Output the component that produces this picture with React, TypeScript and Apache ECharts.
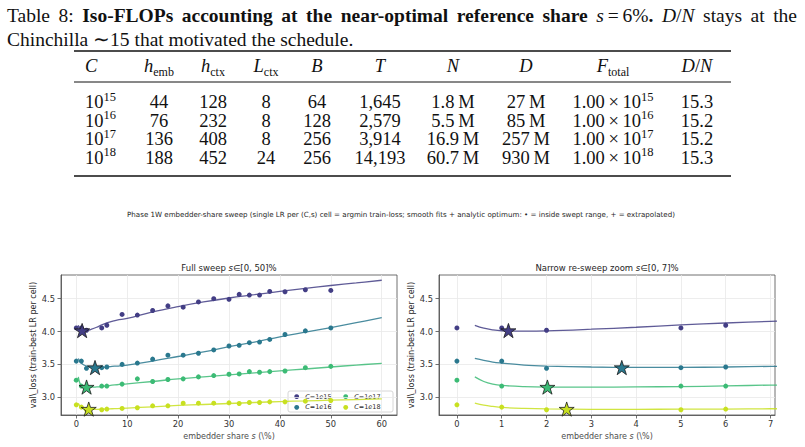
import React, { useEffect, useRef } from "react";
import * as echarts from "echarts";

// ---- Table 8 contents -------------------------------------------------------
const TABLE_C_EXP = ["15", "16", "17", "18"];
const TABLE_H_EMB = ["44", "76", "136", "188"];
const TABLE_H_CTX = ["128", "232", "408", "452"];
const TABLE_L_CTX = ["8", "8", "8", "24"];
const TABLE_B = ["64", "128", "256", "256"];
const TABLE_T = ["1,645", "2,579", "3,914", "14,193"];
const TABLE_N = ["1.8\u2009M", "5.5\u2009M", "16.9\u2009M", "60.7\u2009M"];
const TABLE_D = ["27\u2009M", "85\u2009M", "257\u2009M", "930\u2009M"];
const TABLE_F_EXP = ["15", "16", "17", "18"];
const TABLE_DN = ["15.3", "15.2", "15.2", "15.3"];

// ---- Sweep results ----------------------------------------------------------
const BUDGETS = ["1e15", "1e16", "1e17", "1e18"];
const SHARE_SWEPT = [0, 1, 2, 5, 6, 9, 12, 15, 18, 21, 24, 27, 30, 32, 34, 36, 38, 41, 45, 50];
const LOSS_1E15 = [4.055, 4.055, 4.02, 4.055, 4.095, 4.26, 4.25, 4.32, 4.39, 4.37, 4.45, 4.5, 4.49, 4.565, 4.555, 4.555, 4.61, 4.605, 4.635, 4.625];
const LOSS_1E16 = [3.55, 3.55, 3.44, 3.45, 3.46, 3.5, 3.52, 3.58, 3.64, 3.64, 3.67, 3.72, 3.78, 3.79, 3.83, 3.84, 3.88, 3.955, 4.01, 4.055];
const LOSS_1E17 = [3.26, 3.17, 3.16, 3.17, 3.17, 3.2, 3.28, 3.24, 3.27, 3.28, 3.31, 3.33, 3.35, 3.355, 3.39, 3.38, 3.39, 3.4, 3.45, 3.47];
const LOSS_1E18 = [2.885, 2.85, 2.81, 2.81, 2.82, 2.83, 2.84, 2.87, 2.87, 2.91, 2.91, 2.91, 2.915, 2.905, 2.92, 2.92, 2.93, 2.93, 2.94, 2.95];

// smooth fits, sampled along the share axis
const SHARE_FIT = [0.4, 0.6, 0.8, 1, 1.5, 2, 3, 4, 5, 6, 7, 8, 10, 15, 20, 25, 30, 35, 40, 45, 50, 55, 60];
const FIT_1E15 = [4.095, 4.05, 4.025, 4.012, 4.006, 4.01, 4.035, 4.065, 4.1, 4.13, 4.155, 4.175, 4.2, 4.3, 4.38, 4.45, 4.51, 4.56, 4.61, 4.655, 4.7, 4.74, 4.78];
const FIT_1E16 = [3.59, 3.56, 3.535, 3.52, 3.49, 3.475, 3.46, 3.455, 3.455, 3.46, 3.47, 3.475, 3.49, 3.55, 3.62, 3.69, 3.77, 3.84, 3.92, 3.99, 4.06, 4.135, 4.21];
const FIT_1E17 = [3.31, 3.24, 3.2, 3.18, 3.162, 3.155, 3.153, 3.157, 3.163, 3.172, 3.185, 3.19, 3.205, 3.24, 3.28, 3.31, 3.34, 3.37, 3.4, 3.43, 3.46, 3.49, 3.515];
const FIT_1E18 = [2.91, 2.88, 2.86, 2.845, 2.83, 2.822, 2.817, 2.817, 2.818, 2.82, 2.825, 2.828, 2.835, 2.855, 2.875, 2.89, 2.905, 2.92, 2.935, 2.945, 2.955, 2.965, 2.975];

// analytic optimum per budget
const OPT_SHARE = [1.15, 3.68, 2.02, 2.45];
const OPT_LOSS = [4.015, 3.452, 3.155, 2.82];

const Y_TICKS = [3.0, 3.5, 4.0, 4.5];
const X_TICKS_FULL = [0, 10, 20, 30, 40, 50, 60];
const X_TICKS_ZOOM = [0, 1, 2, 3, 4, 5, 6, 7];

const LOSSES = [LOSS_1E15, LOSS_1E16, LOSS_1E17, LOSS_1E18];
const FITS = [FIT_1E15, FIT_1E16, FIT_1E17, FIT_1E18];
const COLORS = ["#433e85", "#2a788e", "#3cbb75", "#c8e020"];

const SERIF = "'Liberation Serif', 'Times New Roman', serif";
const SANS = "'DejaVu Sans', sans-serif";
const CAP_SIZE = 19.5;
const TAB_SIZE = 18.5;

// matplotlib-style 5-point star marker
const STAR = (() => {
  const pts: string[] = [];
  for (let i = 0; i < 10; i++) {
    const r = i % 2 === 0 ? 50 : 50 * 0.381966;
    const a = -Math.PI / 2 + (i * Math.PI) / 5;
    pts.push(`${(50 + r * Math.cos(a)).toFixed(2)},${(50 + r * Math.sin(a)).toFixed(2)}`);
  }
  return "path://M" + pts.join(" L") + " Z";
})();

const zip = (xs: number[], ys: number[]) => xs.map((x, i) => [x, ys[i]]);

// superscripts sit at the top of a tall line box, subscripts at its bottom
const tableRich = {
  n: { fontFamily: SERIF, fontSize: TAB_SIZE, lineHeight: 24, fill: "#111" },
  i: { fontFamily: SERIF, fontSize: TAB_SIZE, lineHeight: 24, fontStyle: "italic", fill: "#111" },
  sup: { fontFamily: SERIF, fontSize: 12.5, lineHeight: 12, verticalAlign: "top", fill: "#111" },
  sub: { fontFamily: SERIF, fontSize: 12, lineHeight: 11, verticalAlign: "bottom", fill: "#111" },
};

function buildTable(): any[] {
  const cols = [
    { x: 85, align: "left", head: "{i|C}", cells: TABLE_C_EXP.map((e) => `{n|10}{sup|${e}}`) },
    { x: 159, head: "{i|h}{sub|emb}", cells: TABLE_H_EMB.map((v) => `{n|${v}}`) },
    { x: 213, head: "{i|h}{sub|ctx}", cells: TABLE_H_CTX.map((v) => `{n|${v}}`) },
    { x: 266, head: "{i|L}{sub|ctx}", cells: TABLE_L_CTX.map((v) => `{n|${v}}`) },
    { x: 317, head: "{i|B}", cells: TABLE_B.map((v) => `{n|${v}}`) },
    { x: 380, head: "{i|T}", cells: TABLE_T.map((v) => `{n|${v}}`) },
    { x: 453, head: "{i|N}", cells: TABLE_N.map((v) => `{n|${v}}`) },
    { x: 526, head: "{i|D}", cells: TABLE_D.map((v) => `{n|${v}}`) },
    { x: 613, head: "{i|F}{sub|total}", cells: TABLE_F_EXP.map((e) => `{n|1.00\u2009×\u200910}{sup|${e}}`) },
    { x: 697, head: "{i|D}{n|/}{i|N}", cells: TABLE_DN.map((v) => `{n|${v}}`) },
  ];
  const headY = 66;
  const rowY = [102, 120.5, 139, 157.5];
  const els: any[] = [];
  cols.forEach((c) => {
    const align = c.align || "center";
    els.push({
      type: "text",
      x: c.x,
      y: headY,
      style: { text: c.head, rich: tableRich, align, verticalAlign: "middle" },
    });
    c.cells.forEach((t, r) => {
      els.push({
        type: "text",
        x: c.x,
        y: rowY[r],
        style: { text: t, rich: tableRich, align, verticalAlign: "middle" },
      });
    });
  });
  const rule = (y: number, w: number) => ({
    type: "line",
    shape: { x1: 74, y1: y, x2: 731, y2: y },
    style: { stroke: "#111", lineWidth: w },
  });
  els.push(rule(51, 1.6), rule(82, 1), rule(176, 1.6));
  return els;
}

// ---- caption -----------------------------------------------------------------
const capFonts: Record<string, string> = {
  r: `${CAP_SIZE}px ${SERIF}`,
  b: `bold ${CAP_SIZE}px ${SERIF}`,
  i: `italic ${CAP_SIZE}px ${SERIF}`,
};
const capRich = {
  r: { fontFamily: SERIF, fontSize: CAP_SIZE, fill: "#111" },
  b: { fontFamily: SERIF, fontSize: CAP_SIZE, fontWeight: "bold", fill: "#111" },
  i: { fontFamily: SERIF, fontSize: CAP_SIZE, fontStyle: "italic", fill: "#111" },
};

// first caption line, word by word: [style, text] runs
const CAPTION_LINE1: [string, string][][] = [
  [["r", "Table"]],
  [["r", "8:"]],
  [["b", "Iso-FLOPs"]],
  [["b", "accounting"]],
  [["b", "at"]],
  [["b", "the"]],
  [["b", "near-optimal"]],
  [["b", "reference"]],
  [["b", "share"]],
  [["i", "s"], ["r", "\u2009=\u20096%"], ["b", "."]],
  [["i", "D"], ["r", "/"], ["i", "N"]],
  [["r", "stays"]],
  [["r", "at"]],
  [["r", "the"]],
];
const CAPTION_LINE2 = "Chinchilla \u223C15 that motivated the schedule.";

// spreads the words of a line so it fills x0..x1
function justifiedLine(words: [string, string][][], x0: number, x1: number, y: number): any[] {
  const ctx = document.createElement("canvas").getContext("2d") as CanvasRenderingContext2D;
  const widths = words.map((w) =>
    w.reduce((s, [st, t]) => {
      ctx.font = capFonts[st];
      return s + ctx.measureText(t).width;
    }, 0)
  );
  const total = widths.reduce((a, b) => a + b, 0);
  const gap = (x1 - x0 - total) / (words.length - 1);
  let x = x0;
  return words.map((w, k) => {
    const el = {
      type: "text",
      x,
      y,
      style: {
        text: w.map(([st, t]) => `{${st}|${t}}`).join(""),
        rich: capRich,
        verticalAlign: "middle",
      },
    };
    x += widths[k] + gap;
    return el;
  });
}

const plotTitleRich = {
  t: { fontFamily: SANS, fontSize: 8.5, fill: "#262626" },
  i: { fontFamily: SANS, fontSize: 8.5, fontStyle: "italic", fill: "#262626" },
};
const axisNameRich = {
  t: { fontFamily: SANS, fontSize: 8, fill: "#262626" },
  i: { fontFamily: SANS, fontSize: 8, fontStyle: "italic", fill: "#262626" },
};

function legendGroup(): any {
  const children: any[] = [
    {
      type: "rect",
      shape: { x: 288, y: 391, width: 105, height: 21, r: 2 },
      style: { fill: "rgba(255,255,255,0.8)", stroke: "#cccccc", lineWidth: 0.8 },
    },
  ];
  // two columns, filled top to bottom
  BUDGETS.forEach((b, k) => {
    const col = Math.floor(k / 2);
    const row = k % 2;
    const cx = 296.7 + col * 49;
    const cy = 396.7 + row * 10.6;
    children.push({ type: "circle", shape: { cx, cy, r: 2.4 }, style: { fill: COLORS[k] } });
    children.push({
      type: "text",
      x: cx + 8.5,
      y: cy,
      style: {
        text: `{i|C}{t|=1}{i|e}{t|${b.slice(2)}}`,
        verticalAlign: "middle",
        rich: {
          t: { fontFamily: SANS, fontSize: 6.5, fill: "#262626" },
          i: { fontFamily: SANS, fontSize: 6.5, fontStyle: "italic", fill: "#262626" },
        },
      },
    });
  });
  return { type: "group", z: 100, children };
}

function axisPair(gridIndex: number, min: number, max: number, ticks: number[]) {
  const spine = { color: "#4d4d4d", width: 0.8 };
  const x = {
    type: "value",
    gridIndex,
    min,
    max,
    axisLine: { show: true, onZero: false, lineStyle: spine },
    axisTick: { show: true, customValues: ticks, length: 3.5, lineStyle: spine },
    axisLabel: { customValues: ticks, fontSize: 8.3, color: "#333", margin: 5, fontFamily: SANS },
    splitLine: { show: true, lineStyle: { color: "#e8e8e8", width: 0.8 } },
    name: "{t|embedder share }{i|s}{t| (\\%)}",
    nameLocation: "middle",
    nameGap: 17,
    nameTextStyle: { rich: axisNameRich },
  };
  const y = {
    type: "value",
    gridIndex,
    min: 2.73,
    max: 4.86,
    axisLine: { show: true, onZero: false, lineStyle: spine },
    axisTick: { show: true, customValues: Y_TICKS, length: 3.5, lineStyle: spine },
    axisLabel: {
      customValues: Y_TICKS,
      fontSize: 8.3,
      color: "#333",
      margin: 6,
      fontFamily: SANS,
      formatter: (v: number) => v.toFixed(1),
    },
    splitLine: { show: true, lineStyle: { color: "#e8e8e8", width: 0.8 } },
    name: "val\\_loss (train-best LR per cell)",
    nameLocation: "middle",
    nameGap: 20,
    nameTextStyle: { fontFamily: SANS, fontSize: 8, color: "#262626" },
  };
  return { x, y };
}

function seriesFor(g: number): any[] {
  const out: any[] = [];
  BUDGETS.forEach((b, k) => {
    out.push({
      type: "line",
      name: `C=${b}`,
      xAxisIndex: g,
      yAxisIndex: g,
      data: zip(SHARE_FIT, FITS[k]),
      smooth: 0.4,
      showSymbol: false,
      silent: true,
      clip: true,
      lineStyle: { color: COLORS[k], width: 1.3, opacity: 0.85 },
      z: 2,
    });
    out.push({
      type: "scatter",
      name: `C=${b}`,
      xAxisIndex: g,
      yAxisIndex: g,
      data: zip(SHARE_SWEPT, LOSSES[k]),
      symbolSize: 5,
      clip: true,
      itemStyle: { color: COLORS[k], opacity: 1 },
      z: 3,
    });
    out.push({
      type: "scatter",
      name: `C=${b} optimum`,
      xAxisIndex: g,
      yAxisIndex: g,
      data: [[OPT_SHARE[k], OPT_LOSS[k]]],
      symbol: STAR,
      symbolKeepAspect: true,
      symbolSize: 15,
      clip: true,
      itemStyle: { color: COLORS[k], borderColor: "#1a1a1a", borderWidth: 0.8, opacity: 1 },
      z: 4,
    });
  });
  return out;
}

export default function App() {
  const ref = useRef<HTMLDivElement>(null);
  useEffect(() => {
    if (!ref.current) return;
    const chart = echarts.init(ref.current, undefined, { renderer: "svg" });
    const left = axisPair(0, -3, 63, X_TICKS_FULL);
    const right = axisPair(1, -0.4, 7.1, X_TICKS_ZOOM);
    chart.setOption({
      animation: false,
      backgroundColor: "#ffffff",
      grid: [
        { left: 61, top: 275, width: 336, height: 140, show: true, borderColor: "#4d4d4d", borderWidth: 0.8 },
        { left: 439, top: 275, width: 336, height: 140, show: true, borderColor: "#4d4d4d", borderWidth: 0.8 },
      ],
      xAxis: [left.x, right.x],
      yAxis: [left.y, right.y],
      series: [...seriesFor(0), ...seriesFor(1)],
      graphic: [
        ...justifiedLine(CAPTION_LINE1, 7, 797, 15),
        {
          type: "text",
          x: 7,
          y: 39,
          style: { text: `{r|${CAPTION_LINE2}}`, rich: capRich, verticalAlign: "middle" },
        },
        ...buildTable(),
        {
          type: "text",
          x: 401,
          y: 214,
          style: {
            text:
              "Phase 1W embedder-share sweep (single LR per (C,s) cell = argmin train-loss; smooth fits + analytic optimum: \u2022 = inside swept range, + = extrapolated)",
            fontFamily: SANS,
            fontSize: 7.1,
            fill: "#262626",
            align: "center",
            verticalAlign: "middle",
          },
        },
        {
          type: "text",
          x: 229,
          y: 268,
          style: {
            text: "{t|Full sweep }{i|s}{t|\u2208[0, 50]%}",
            rich: plotTitleRich,
            align: "center",
            verticalAlign: "middle",
          },
        },
        {
          type: "text",
          x: 607,
          y: 268,
          style: {
            text: "{t|Narrow re-sweep zoom }{i|s}{t|\u2208[0, 7]%}",
            rich: plotTitleRich,
            align: "center",
            verticalAlign: "middle",
          },
        },
        legendGroup(),
      ],
    });
    return () => chart.dispose();
  }, []);
  return (
    <div
      ref={ref}
      style={{ position: "absolute", left: 0, top: 0, width: 805, height: 447 }}
    />
  );
}
